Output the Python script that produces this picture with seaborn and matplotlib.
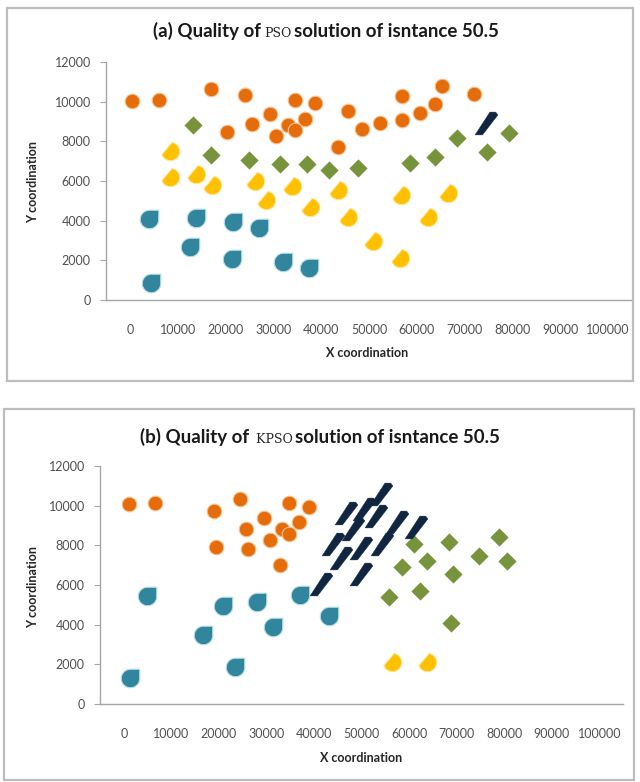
import numpy as np
import pandas as pd
import matplotlib
matplotlib.use('Agg')
import matplotlib.pyplot as plt
import seaborn as sns
from matplotlib.path import Path
from matplotlib.patches import Rectangle
from matplotlib.offsetbox import TextArea, HPacker, AnnotationBbox

# ---- data: (a) PSO solution ----
pso_orange_x = [500, 6100, 16900, 24100, 34500, 38800, 29200, 25500, 20200, 30600, 33000, 34500,
                36600, 45600, 48600, 52400, 43600, 56900, 56900, 60700, 63700, 65300, 71900]
pso_orange_y = [10050, 10100, 10640, 10350, 10100, 9930, 9390, 8870, 8450, 8250, 8840, 8550,
                9140, 9510, 8620, 8920, 7710, 10300, 9090, 9430, 9880, 10800, 10390]
pso_green_x = [13200, 16900, 24900, 31300, 37100, 41600, 47700, 58600, 63900, 68300, 74700, 79200]
pso_green_y = [8800, 7290, 7070, 6870, 6850, 6570, 6650, 6900, 7200, 8160, 7460, 8420]
pso_navy_x = [74500]
pso_navy_y = [8920]
pso_yellow_x = [8300, 8300, 13900, 17200, 26100, 28500, 33800, 37700, 43500, 45700, 50900,
                56500, 56700, 62400, 66600]
pso_yellow_y = [7490, 6200, 6360, 5810, 5980, 5050, 5760, 4710, 5560, 4160, 2950,
                2100, 5300, 4210, 5420]
pso_teal_x = [3900, 13900, 21600, 27100, 12500, 21400, 32000, 37500, 4500]
pso_teal_y = [4070, 4120, 3920, 3620, 2690, 2070, 1940, 1600, 870]

# ---- (b) KPSO solution ----
kpso_orange_x = [1050, 6540, 18990, 24470, 34810, 38880, 29390, 25670, 33270, 34660, 36770,
                 30740, 19350, 26220, 32850]
kpso_orange_y = [10080, 10130, 9740, 10330, 10130, 9910, 9370, 8840, 8810, 8560, 9180,
                 8250, 7930, 7830, 7000]
kpso_teal_x = [4920, 20950, 28000, 37130, 16730, 31290, 43250, 23420, 1410]
kpso_teal_y = [5470, 4960, 5130, 5520, 3490, 3860, 4420, 1890, 1300]
kpso_yellow_x = [56390, 63860]
kpso_yellow_y = [2140, 2140]
kpso_green_x = [60970, 68350, 78970, 58590, 63860, 69140, 74680, 80650, 55760, 62380, 68920]
kpso_green_y = [8090, 8170, 8420, 6920, 7210, 6530, 7460, 7210, 5400, 5690, 4090]
kpso_navy_x = [54160, 46770, 50630, 53100, 48160, 43950, 49940, 54370, 45720, 49940, 41500,
               57490, 61390]
kpso_navy_y = [10580, 9650, 9820, 9480, 8810, 8050, 7880, 8050, 7380, 6530, 6030,
               9200, 8900]

x_ticks = list(range(0, 100001, 10000))
y_ticks = list(range(0, 12001, 2000))

ORANGE = '#E46C0A'
GREEN = '#77933C'
YELLOW = '#FFC000'
TEAL = '#31859C'
NAVY = '#10253F'


def drop_marker():
    arc = Path.arc(90, 360)
    verts = list(arc.vertices) + [(1, 1), (0, 0)]
    codes = list(arc.codes) + [Path.LINETO, Path.CLOSEPOLY]
    return Path(verts, codes)


def cut_marker():
    arc = Path.arc(200, 80)
    verts = list(arc.vertices) + [(0, 0)]
    codes = list(arc.codes) + [Path.CLOSEPOLY]
    return Path(verts, codes)


def slash_marker():
    verts = [(-1, -1), (-0.35, -1), (1, 0.75), (0.8, 1), (0.3, 1), (-1, -1)]
    codes = [Path.MOVETO] + [Path.LINETO] * 4 + [Path.CLOSEPOLY]
    return Path(verts, codes)


sns.set_style('white')
plt.rcParams['font.family'] = ['Lato', 'DejaVu Sans']

fig = plt.figure(figsize=(6.4, 7.82), dpi=100)

# panel frames
fig.add_artist(Rectangle((7 / 640, 1 - 381 / 782), 626 / 640, 373 / 782, transform=fig.transFigure,
                         fill=False, edgecolor='#BDBDBD', linewidth=1.6))
fig.add_artist(Rectangle((4 / 640, 1 - 780 / 782), 630 / 640, 371 / 782, transform=fig.transFigure,
                         fill=False, edgecolor='#BDBDBD', linewidth=1.6))

ax_a = fig.add_axes([106 / 640, 1 - 300 / 782, 526 / 640, 238 / 782])
ax_b = fig.add_axes([100 / 640, 1 - 704 / 782, 523 / 640, 238 / 782])


def draw_series(ax, x, y, color, marker, size, edge, lw=0.8):
    df = pd.DataFrame({'x': x, 'y': y})
    sns.scatterplot(data=df, x='x', y='y', ax=ax, color=color, marker=marker, s=size,
                    edgecolor=edge, linewidth=lw, zorder=3)


draw_series(ax_a, pso_orange_x, pso_orange_y, ORANGE, 'o', 110, '#FAC090')
draw_series(ax_a, pso_green_x, pso_green_y, GREEN, 'D', 80, GREEN, 0.3)
draw_series(ax_a, pso_navy_x, pso_navy_y, NAVY, slash_marker(), 270, NAVY, 0.3)
draw_series(ax_a, pso_yellow_x, pso_yellow_y, YELLOW, cut_marker(), 180, '#FFE699')
draw_series(ax_a, pso_teal_x, pso_teal_y, TEAL, drop_marker(), 185, '#B7DEE8')

draw_series(ax_b, kpso_orange_x, kpso_orange_y, ORANGE, 'o', 110, '#FAC090')
draw_series(ax_b, kpso_teal_x, kpso_teal_y, TEAL, drop_marker(), 185, '#B7DEE8')
draw_series(ax_b, kpso_yellow_x, kpso_yellow_y, YELLOW, cut_marker(), 180, '#FFE699')
draw_series(ax_b, kpso_green_x, kpso_green_y, GREEN, 'D', 80, GREEN, 0.3)
draw_series(ax_b, kpso_navy_x, kpso_navy_y, NAVY, slash_marker(), 270, NAVY, 0.3)

for ax in (ax_a, ax_b):
    ax.set_xlim(-5000, 105000)
    ax.set_ylim(0, 12000)
    ax.set_xticks(x_ticks)
    ax.set_yticks(y_ticks)
    ax.set_xticklabels([str(v) for v in x_ticks])
    ax.set_yticklabels([str(v) for v in y_ticks])
    ax.set_xlabel('')
    ax.set_ylabel('')
    sns.despine(ax=ax)
    for side in ('left', 'bottom'):
        ax.spines[side].set_color('#A6A6A6')
        ax.spines[side].set_linewidth(1.0)
    ax.tick_params(axis='x', length=0, pad=17, labelsize=9, labelcolor='#505050')
    ax.tick_params(axis='y', length=4, width=0.8, color='#A6A6A6', direction='out',
                   pad=7, labelsize=9, labelcolor='#505050', left=True)
    ax.patch.set_alpha(0)

# axis titles
fig.text(367 / 640, 1 - 353 / 782, 'X coordination', ha='center', va='center',
         fontsize=9, fontweight='bold', color='#262626')
fig.text(361 / 640, 1 - 758 / 782, 'X coordination', ha='center', va='center',
         fontsize=9, fontweight='bold', color='#262626')
fig.text(33 / 640, 1 - 182 / 782, 'Y coordination', ha='center', va='center', rotation=90,
         fontsize=9, fontweight='bold', color='#262626')
fig.text(33 / 640, 1 - 587 / 782, 'Y coordination', ha='center', va='center', rotation=90,
         fontsize=9, fontweight='bold', color='#262626')


def mixed_title(parts, xy):
    boxes = []
    for txt, serif in parts:
        if serif:
            props = dict(fontfamily='DejaVu Serif', fontsize=9, color='#262626')
        else:
            props = dict(fontfamily='Lato', fontsize=13.5, fontweight='bold', color='#1a1a1a')
        boxes.append(TextArea(txt, textprops=props))
    pack = HPacker(children=boxes, align='baseline', pad=0, sep=2)
    ab = AnnotationBbox(pack, xy, xycoords='figure fraction', frameon=False,
                        box_alignment=(0.5, 0.5))
    fig.add_artist(ab)


mixed_title([('(a) Quality of', False), ('PSO', True), ('solution of isntance 50.5', False)],
            (326 / 640, 1 - 31 / 782))
mixed_title([('(b) Quality of', False), (' KPSO', True), ('solution of isntance 50.5', False)],
            (320 / 640, 1 - 437 / 782))

fig.savefig('out.png', dpi=100)
